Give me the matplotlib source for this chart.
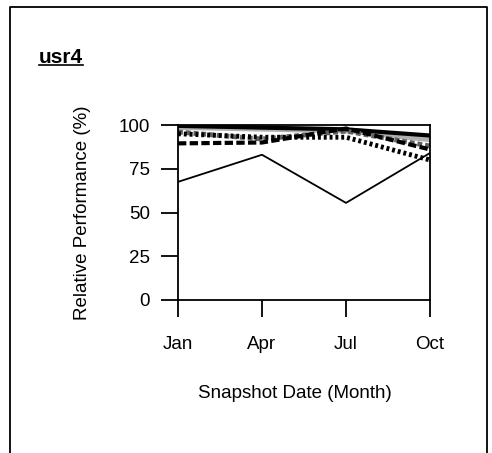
import matplotlib
matplotlib.use('Agg')
import matplotlib.pyplot as plt
from matplotlib.lines import Line2D

# ==================Data=======================
months = ['Jan', 'Apr', 'Jul', 'Oct']
perf_black_thick = [99.5, 98.5, 97.5, 94]
perf_gray_thick = [99, 98, 97, 92]
perf_dotted = [95, 93, 93, 80]
perf_hatched = [96, 92, 96.5, 88]
perf_dashed = [89.5, 90, 98, 86]
perf_thin = [67.5, 83, 55.5, 84]
y_ticks = [0, 25, 50, 75, 100]

plt.rcParams['font.family'] = ['Liberation Sans', 'DejaVu Sans']

fig = plt.figure(figsize=(4.92, 4.53), dpi=100)
ax = fig.add_axes([178 / 492, 1 - 300 / 453, 252 / 492, 175 / 453])

x = list(range(len(months)))
ax.plot(x, perf_gray_thick, color='#b0b0b0', lw=4.5, solid_capstyle='butt')
ax.plot(x, perf_black_thick, color='black', lw=3, solid_capstyle='butt')
ax.plot(x, perf_hatched, color='#606060', lw=3.5, linestyle=(0, (1, 0.6)))
ax.plot(x, perf_dotted, color='black', lw=3.5, linestyle=(0, (0.6, 0.6)))
ax.plot(x, perf_dashed, color='black', lw=3, linestyle=(0, (2, 0.8)))
ax.plot(x, perf_thin, color='black', lw=1.3)

ax.set_xlim(0, 3)
ax.set_ylim(0, 100)
ax.set_xticks(x)
ax.set_xticklabels(months)
ax.set_yticks(y_ticks)
ax.tick_params(direction='out', length=12, width=1.3, labelsize=13.5)
ax.tick_params(axis='x', pad=14)
ax.tick_params(axis='y', pad=8)
for sp in ax.spines.values():
    sp.set_linewidth(1.3)
ax.set_xlabel('Snapshot Date (Month)', fontsize=13.5)
ax.xaxis.set_label_coords((295 - 178) / 252, -(385 - 300) / 175)
ax.set_ylabel('Relative Performance (%)', fontsize=13.5)
ax.yaxis.set_label_coords(-(178 - 91) / 252, 0.5)

# frame around the panel (no bottom edge)
fx0, fx1, fy1 = 10 / 492, 487 / 492, 1 - 7 / 453
fig.add_artist(Line2D([fx0, fx0, fx1, fx1], [0, fy1, fy1, 0],
                      transform=fig.transFigure, color='black', lw=1.3))

# underlined bold title
title = fig.text(39 / 492, 1 - 63 / 453, 'usr4', fontsize=15,
                 fontweight='bold', va='baseline', ha='left')
fig.canvas.draw()
bb = title.get_window_extent().transformed(fig.transFigure.inverted())
uy = 1 - 65 / 453
fig.add_artist(Line2D([bb.x0, bb.x1], [uy, uy], transform=fig.transFigure,
                      color='black', lw=1.2))

fig.savefig('out.png', dpi=100)
